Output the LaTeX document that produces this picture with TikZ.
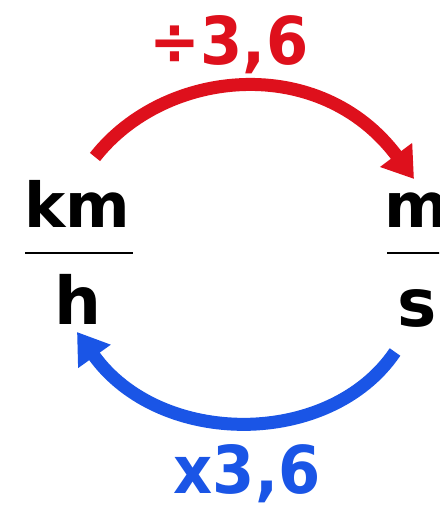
\documentclass[tikz,border=0pt]{standalone}
\usepackage{fontspec}
\setmainfont{DejaVu Sans}
\usetikzlibrary{arrows.meta}
\definecolor{arrred}{HTML}{DE101C}
\definecolor{arrblue}{HTML}{1A55E6}
\begin{document}
\begin{tikzpicture}[x=1pt,y=1pt,
  unit/.style={inner sep=0pt,anchor=base,font=\bfseries\fontsize{62}{64}\selectfont},
  denom/.style={inner sep=0pt,anchor=base,font=\bfseries\fontsize{66}{68}\selectfont},
  factor/.style={inner sep=0pt,anchor=base,font=\bfseries\fontsize{66}{68}\selectfont,xscale=0.92},
  fracline/.style={line width=2pt},
  conv/.style={line width=13pt,-{Triangle[length=30pt,width=38pt]}}]
\useasboundingbox (0,0) rectangle (439,508);
\clip (0,0) rectangle (439,508);
\fill[white] (0,0) rectangle (439,508);
% units
\node[unit] (km) at (77,280) {km};
\node[denom] (h) at (78,183) {h};
\node[unit] (m) at (417,280) {m};
\node[denom] (s) at (417,181) {s};
\draw[fracline] (25,255) -- (133,255);
\draw[fracline] (387,255) -- (445,255);
% factors
\node[factor,text=arrred] (div) at (229,443) {÷3,6};
\node[factor,text=arrblue] (mul) at (247,14) {x3,6};
% arrows
\coordinate (r0) at (95,351);
\coordinate (r1) at (414,329);
\coordinate (b0) at (395,156);
\coordinate (b1) at (77,176);
\draw[conv,arrred] (r0) .. controls (165,440) and (320,455) .. (r1);
\draw[conv,arrblue] (b0) .. controls (330,60) and (160,60) .. (b1);
\end{tikzpicture}
\end{document}
